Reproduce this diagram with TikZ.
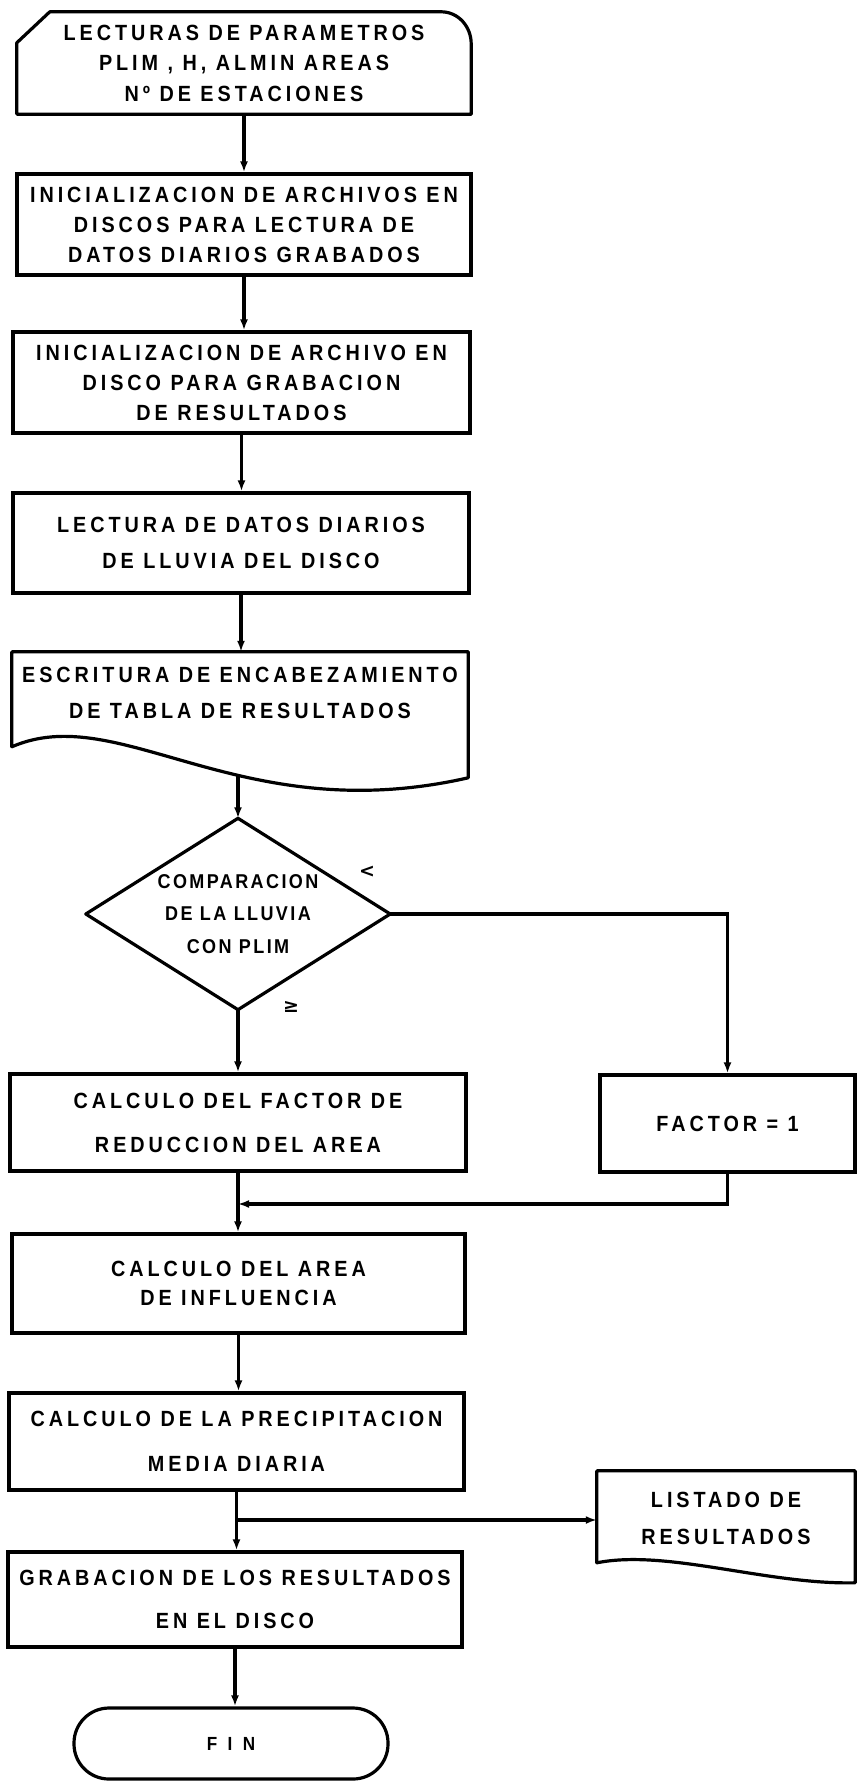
\documentclass[tikz,border=0pt]{standalone}
\usepackage{fontspec}
\setmainfont{Liberation Sans}
\newfontfamily\lettering[FakeStretch=0.9,LetterSpace=18]{Liberation Sans}
\newfontfamily\letteringD[FakeStretch=0.9,LetterSpace=12]{Liberation Sans}
\newfontfamily\letteringF[FakeStretch=0.9,LetterSpace=55]{Liberation Sans}
\newfontfamily\symfont{DejaVu Sans}
\usetikzlibrary{arrows.meta,calc}
\tikzset{
  lw/.style={line width=3.2pt},
  lsp/.style={font=\lettering\bfseries\fontsize{22}{#1}\selectfont},
  box/.style={draw, lw, rectangle, inner sep=0pt, align=center, lsp=30},
  plain/.style={draw=none, rectangle, inner sep=0pt, align=center, lsp=30},
  shapeline/.style={lw, line join=round},
  arr/.style={lw, -{Latex[length=11pt,width=8pt]}},
  sym/.style={font=\symfont\bfseries\fontsize{19}{19}\selectfont, inner sep=0pt},
}
\begin{document}
\begin{tikzpicture}[x=1pt,y=-1pt]
\useasboundingbox (0,0) rectangle (857,1784);
\fill[white] (0,0) rectangle (857,1784);

% start (input) box with chamfered / rounded top corners
\node[plain, lsp=30.5, minimum width=454pt, minimum height=102pt] (start) at (244,63)
  {LECTURAS DE PARAMETROS\\PLIM , H, ALMIN AREAS\\Nº DE ESTACIONES};
\draw[shapeline] (start.south west) -- ($(start.north west)+(0,31)$) -- ($(start.north west)+(33,0)$)
  -- ($(start.north east)+(-30,0)$) to[out=0,in=90] ($(start.north east)+(0,32)$)
  -- (start.south east) -- cycle;

\node[box, lsp=30, minimum width=454pt, minimum height=101pt] (b2) at (244,224.5)
  {INICIALIZACION DE ARCHIVOS EN\\DISCOS PARA LECTURA DE\\DATOS DIARIOS GRABADOS};
\node[box, lsp=30, minimum width=457pt, minimum height=101pt] (b3) at (241.5,382.5)
  {INICIALIZACION DE ARCHIVO EN\\DISCO PARA GRABACION\\DE RESULTADOS};
\node[box, lsp=36, minimum width=456pt, minimum height=100pt] (b4) at (241,543)
  {LECTURA DE DATOS DIARIOS\\DE LLUVIA DEL DISCO};

% document shape
\node[plain, lsp=36, minimum width=456pt, minimum height=82pt] (doc1) at (240,693)
  {ESCRITURA DE ENCABEZAMIENTO\\DE TABLA DE RESULTADOS};
\draw[shapeline] (doc1.north west) -- (doc1.north east) -- ($(doc1.north east)+(0,126)$)
  .. controls ($(doc1.north west)+(228,178)$) and ($(doc1.north west)+(108,48)$) .. ($(doc1.north west)+(0,95)$)
  coordinate[pos=0.4] (w1) -- cycle;

% decision
\node[plain, font=\letteringD\bfseries\fontsize{20}{32.5}\selectfont, minimum width=304pt, minimum height=191pt] (dia) at (238,914)
  {COMPARACION\\DE LA LLUVIA\\CON PLIM};
\draw[shapeline] (dia.north) -- (dia.east) -- (dia.south) -- (dia.west) -- cycle;
\node[sym] (lt) at (367,872) {<};
\node[sym] (ge) at (291,1007) {≥};

\node[box, lsp=44, minimum width=456pt, minimum height=97pt] (fcalc) at (238,1122.5)
  {CALCULO DEL FACTOR DE\\REDUCCION DEL AREA};
\node[box, minimum width=255pt, minimum height=97pt] (f1) at (727.5,1123.5) {FACTOR = 1};

\node[box, lsp=29, minimum width=453pt, minimum height=99pt] (area) at (238.5,1283.5)
  {CALCULO DEL AREA\\DE INFLUENCIA};
\node[box, lsp=45, minimum width=455pt, minimum height=97pt] (precip) at (236.5,1441.5)
  {CALCULO DE LA PRECIPITACION\\MEDIA DIARIA};

% listing (document)
\node[plain, lsp=37, minimum width=258pt, minimum height=95pt] (list) at (726,1518.5)
  {LISTADO DE\\RESULTADOS};
\draw[shapeline] (list.north west) -- (list.north east) -- ($(list.north east)+(0,112)$)
  .. controls ($(list.north west)+(170,114)$) and ($(list.north west)+(70,78)$) .. ($(list.north west)+(0,92)$)
  -- cycle;

\node[box, lsp=43, minimum width=454pt, minimum height=95pt] (grab) at (235,1599.5)
  {GRABACION DE LOS RESULTADOS\\EN EL DISCO};

\node[draw, lw, rounded corners=35pt, inner sep=0pt, minimum width=314pt, minimum height=71pt,
  font=\letteringF\bfseries\fontsize{19}{19}\selectfont] (fin) at (231,1743.5) {FIN};

% connectors
\draw[arr] (start.south) -- (start.south |- b2.north);
\draw[arr] (b2.south) -- (b2.south |- b3.north);
\draw[arr] (b3.south) -- (b3.south |- b4.north);
\draw[arr] (b4.south) -- (b4.south |- doc1.north);
\draw[arr] (w1 -| dia.north) -- (dia.north);
\draw[arr] (dia.south) -- (fcalc.north);
\draw[arr] (dia.east) -| (f1.north);
\draw[arr] (fcalc.south) -- (fcalc.south |- area.north);
\coordinate (m) at (238,1204);
\draw[arr] (f1.south) |- (m);
\draw[arr] (area.south) -- (area.south |- precip.north);
\draw[arr] (precip.south) -- (precip.south |- grab.north);
\coordinate (br) at (236.5,1520);
\draw[arr] (br) -- (br -| list.west);
\draw[arr] (grab.south) -- (grab.south |- fin.north);
\end{tikzpicture}
\end{document}
